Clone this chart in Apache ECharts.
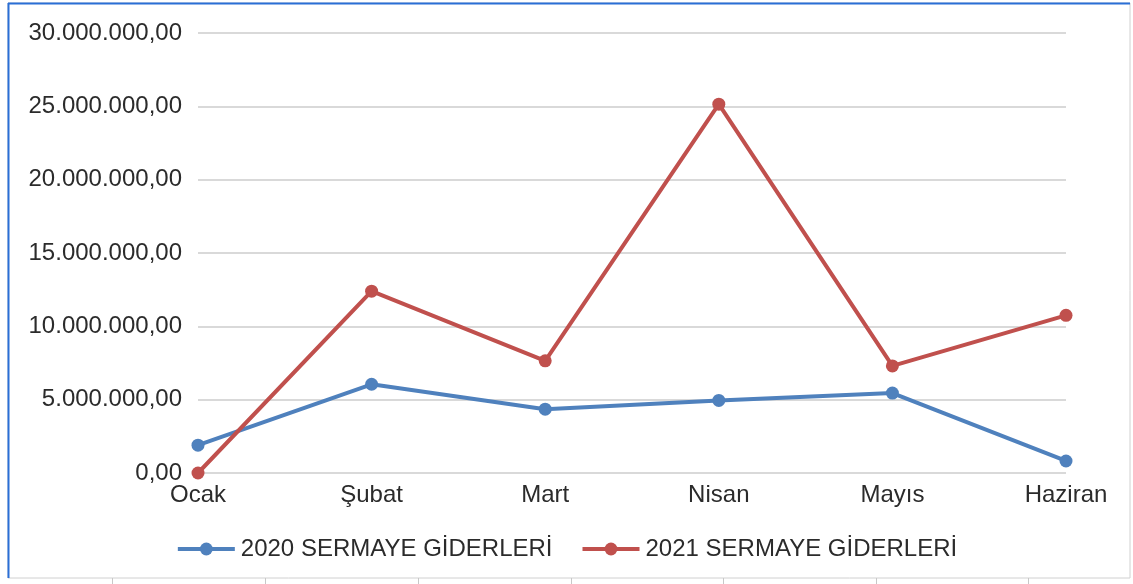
<!DOCTYPE html>
<html><head><meta charset="utf-8">
<script src="https://cdn.jsdelivr.net/npm/echarts@6/dist/echarts.min.js"></script>
<style>html,body{margin:0;padding:0;background:#fff}#c{width:1133px;height:584px}</style>
</head><body><div id="c"></div>
<script>
const categories = ['Ocak', 'Şubat', 'Mart', 'Nisan', 'Mayıs', 'Haziran'];
const series2020 = [1900000, 6050000, 4350000, 4950000, 5450000, 820000];
const series2021 = [0, 12400000, 7650000, 25150000, 7300000, 10750000];
const seriesNames = ['2020 SERMAYE GİDERLERİ', '2021 SERMAYE GİDERLERİ'];
const colors = ['#4f81bd', '#c0504d'];

function fmt(v) {
  const s = Math.round(v).toString().replace(/\B(?=(\d{3})+(?!\d))/g, '.');
  return s + ',00';
}
const chart = echarts.init(document.getElementById('c'));
const font = 'Liberation Sans, Arial, sans-serif';
const ticks = [112, 265, 418, 571, 723, 876, 1028];
const graphics = [
  {type:'rect', shape:{x:8, y:3, width:1122, height:575}, style:{fill:'none', stroke:'#d0d0d0', lineWidth:1}, z:-1},
  {type:'line', shape:{x1:8.5, y1:3, x2:8.5, y2:578}, style:{stroke:'#2a6fd6', lineWidth:2}},
  {type:'line', shape:{x1:8, y1:3.5, x2:1130, y2:3.5}, style:{stroke:'#2a6fd6', lineWidth:2}}
];
ticks.forEach(x => graphics.push({type:'line', shape:{x1:x+0.5, y1:578, x2:x+0.5, y2:584}, style:{stroke:'#c8c8c8', lineWidth:1}}));
chart.setOption({
  animation: false,
  color: colors,
  textStyle: {fontFamily: font},
  graphic: graphics,
  grid: {left: 198, right: 67, top: 33, bottom: 111, containLabel: false},
  legend: {
    top: 532, left: 'center', itemWidth: 57, itemHeight: 16, itemGap: 28,
    lineStyle: {width: 4},
    textStyle: {fontFamily: font, fontSize: 24, color: '#2b2b2b', padding: [0, 0, 0, 1]},
    data: seriesNames
  },
  xAxis: {
    type: 'category', data: categories, boundaryGap: false,
    axisLine: {show: false}, axisTick: {show: false},
    axisLabel: {fontFamily: font, fontSize: 24, color: '#2b2b2b', margin: 10}
  },
  yAxis: {
    type: 'value', min: 0, max: 30000000, interval: 5000000,
    axisLine: {show: false}, axisTick: {show: false},
    splitLine: {lineStyle: {color: '#d9d9d9', width: 2}},
    axisLabel: {fontFamily: font, fontSize: 24, color: '#2b2b2b', margin: 16, formatter: fmt}
  },
  series: [
    {name: seriesNames[0], type: 'line', data: series2020, symbol: 'circle', symbolSize: 13,
     lineStyle: {width: 4, color: colors[0]}, itemStyle: {color: colors[0]}},
    {name: seriesNames[1], type: 'line', data: series2021, symbol: 'circle', symbolSize: 13,
     lineStyle: {width: 4, color: colors[1]}, itemStyle: {color: colors[1]}}
  ]
});
</script></body></html>
